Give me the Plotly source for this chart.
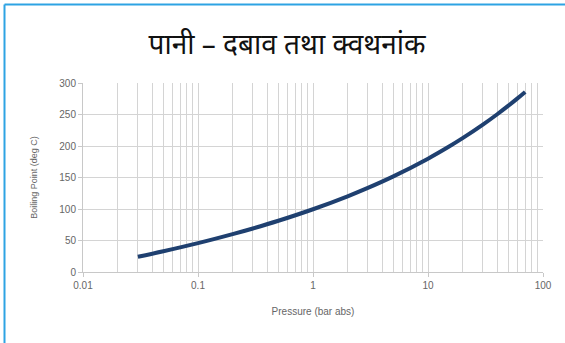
import plotly.graph_objects as go

# Saturation curve of water: absolute pressure (bar) vs boiling point (deg C)
pressure_bar = [0.03, 0.05, 0.1, 0.2, 0.3, 0.5, 1.0, 2.0, 3.0, 5.0, 10, 15, 20, 30, 40, 50, 60, 70]
boiling_c = [24.1, 32.9, 45.8, 60.1, 69.1, 81.3, 99.6, 120.2, 133.5, 151.8, 179.9, 198.3,
             212.4, 233.9, 250.4, 264.0, 275.6, 285.8]

x_major = [0.01, 0.1, 1, 10, 100]
x_labels = ["0.01", "0.1", "1", "10", "100"]
x_minor = [m * d for d in [0.01, 0.1, 1, 10] for m in range(2, 10)]
y_ticks = [0, 50, 100, 150, 200, 250, 300]

title_text = "पानी – दबाव तथा क्वथनांक"
x_title = "Pressure (bar abs)"
y_title = "Boiling Point (deg C)"

W, H = 565, 343
L, R, T, B = 83, 22, 83, 71
pw, ph = W - L - R, H - T - B


def px_x(px):
    return (px - L) / pw


def px_y(py):
    return (H - B - py) / ph


fig = go.Figure()
fig.add_trace(go.Scatter(
    x=pressure_bar, y=boiling_c, mode="lines",
    line=dict(color="#1f4070", width=4, shape="spline"),
    hoverinfo="x+y", showlegend=False,
))

grid = "#d4d4d4"
label_font = "Liberation Sans, Arial, sans-serif"
tick_font = dict(family=label_font, size=10, color="#666666")

fig.update_xaxes(
    type="log", range=[-2, 2],
    tickvals=x_major, ticktext=x_labels,
    showgrid=True, gridcolor=grid, gridwidth=1,
    minor=dict(tickvals=x_minor, showgrid=True, gridcolor=grid, gridwidth=1),
    showline=True, linecolor="#c8c8c8", linewidth=1,
    ticks="outside", ticklen=4, tickcolor="#c8c8c8",
    tickfont=tick_font, zeroline=False,
    title=dict(text=x_title, font=dict(family=label_font, size=10, color="#666666"),
               standoff=17),
)
fig.update_yaxes(
    range=[0, 300], tickvals=y_ticks,
    showgrid=True, gridcolor=grid, gridwidth=1,
    showline=True, linecolor="#c8c8c8", linewidth=1, mirror=False,
    ticks="outside", ticklen=4, tickcolor="#c8c8c8",
    tickfont=tick_font, zeroline=False,
    title=dict(text=y_title, font=dict(family=label_font, size=9, color="#666666"),
               standoff=20),
)

# frame lines along the top and left edges of the page
border = "#2ea3e3"
fig.add_shape(type="line", xref="paper", yref="paper",
              x0=px_x(4.5), x1=px_x(W + 2), y0=px_y(4.5), y1=px_y(4.5),
              line=dict(color=border, width=2))
fig.add_shape(type="line", xref="paper", yref="paper",
              x0=px_x(4.5), x1=px_x(4.5), y0=px_y(4.5), y1=px_y(H + 2),
              line=dict(color=border, width=2))

fig.update_layout(
    width=W, height=H,
    margin=dict(l=L, r=R, t=T, b=B),
    paper_bgcolor="white", plot_bgcolor="white",
    title=dict(text=title_text, x=px_x(287), xanchor="center", xref="paper",
               y=1 - 44 / H, yanchor="middle",
               font=dict(family="Noto Sans, sans-serif", size=28, color="#111111")),
)

fig.write_html("out.html")
